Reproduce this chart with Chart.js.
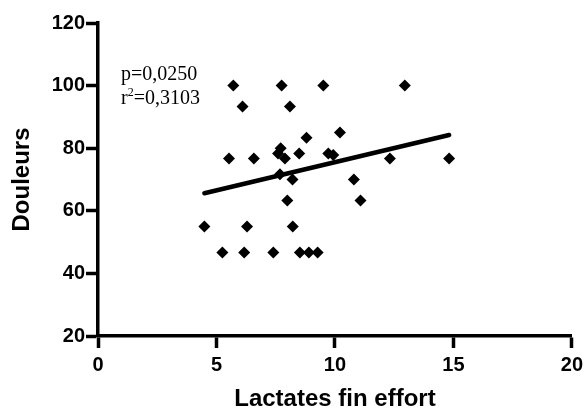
<!DOCTYPE html>
<html lang="fr">
  <head>
    <meta charset="UTF-8" />
    <title>Douleurs vs Lactates fin effort</title>
    <style>
      html,
      body {
        margin: 0;
        padding: 0;
        background: white;
      }

      .container {
        position: relative;
        width: 588px;
        height: 414px;
      }
    </style>
  </head>
  <body>
    <div class="container">
      <canvas id="chart"></canvas>
    </div>

    <script src="https://cdn.jsdelivr.net/npm/chart.js@4.4.0/dist/chart.umd.min.js"></script>
    <script>
      // values
      const lactates = [
        5.71, 7.75, 9.51, 12.95, 6.1, 8.1, 10.21, 8.8, 7.71, 7.6, 8.49, 9.72, 9.93,
        5.53, 6.58, 7.89, 12.32, 14.82, 7.68, 8.21, 10.8, 7.99, 11.08, 4.49, 6.29,
        8.22, 5.25, 6.17, 7.4, 8.52, 8.9, 9.27,
      ];
      const douleurs = [
        100, 100, 100, 100, 93.3, 93.3, 85, 83.3, 80, 78.3, 78.3, 78.3, 77.8,
        76.7, 76.7, 76.7, 76.7, 76.7, 71.7, 70, 70, 63.3, 63.3, 55, 55,
        55, 46.7, 46.7, 46.7, 46.7, 46.7, 46.7,
      ];

      // regression line ends
      const fitX = [4.49, 14.82];
      const fitY = [65.6, 84.2];

      const statLines = ["p=0,0250", "r", "2", "=0,3103"];

      const xTicks = [0, 5, 10, 15, 20];
      const yTicks = [20, 40, 60, 80, 100, 120];

      const TICK_FONT = { family: "'Liberation Sans', Arial, sans-serif", size: 20, weight: "bold" };
      const TITLE_FONT = { family: "'Liberation Sans', Arial, sans-serif", size: 24, weight: "bold" };
      const SERIF = "'Liberation Serif', 'Times New Roman', serif";

      const statsText = {
        id: "statsText",
        afterDraw(chart) {
          const { ctx, chartArea } = chart;
          const x = chartArea.left + 23;
          ctx.save();
          ctx.fillStyle = "#000";
          ctx.textBaseline = "alphabetic";
          ctx.font = "20px " + SERIF;
          ctx.fillText(statLines[0], x, chartArea.top + 57);
          const y2 = chartArea.top + 81;
          ctx.fillText(statLines[1], x, y2);
          let w = ctx.measureText(statLines[1]).width;
          ctx.font = "12px " + SERIF;
          ctx.fillText(statLines[2], x + w, y2 - 8);
          w += ctx.measureText(statLines[2]).width;
          ctx.font = "20px " + SERIF;
          ctx.fillText(statLines[3], x + w, y2);
          ctx.restore();
        },
      };

      const axisStyle = {
        grid: {
          drawOnChartArea: false,
          drawTicks: true,
          tickLength: 12,
          tickWidth: 3.5,
          tickColor: "#000",
        },
        border: { color: "#000", width: 3.5 },
      };

      new Chart(document.getElementById("chart"), {
        type: "scatter",
        data: {
          datasets: [
            {
              label: "Douleurs",
              data: lactates.map((x, i) => ({ x, y: douleurs[i] })),
              pointStyle: "rectRot",
              pointRadius: 6,
              pointBorderWidth: 0,
              backgroundColor: "#000",
              borderColor: "#000",
            },
            {
              label: "Régression",
              type: "line",
              data: fitX.map((x, i) => ({ x, y: fitY[i] })),
              borderColor: "#000",
              borderWidth: 4.5,
              pointRadius: 0,
              borderCapStyle: "round",
              fill: false,
            },
          ],
        },
        options: {
          responsive: true,
          maintainAspectRatio: false,
          animation: false,
          layout: { padding: { left: 0, top: 23, right: 16, bottom: 0 } },
          plugins: {
            legend: { display: false },
            tooltip: { enabled: false },
          },
          scales: {
            x: {
              type: "linear",
              min: 0,
              max: 20,
              afterBuildTicks: (s) => {
                s.ticks = xTicks.map((v) => ({ value: v }));
              },
              afterFit: (s) => {
                s.height = 78;
              },
              ticks: { color: "#000", font: TICK_FONT, padding: 5, maxRotation: 0 },
              title: {
                display: true,
                text: "Lactates fin effort",
                color: "#000",
                font: TITLE_FONT,
                padding: { top: 0, bottom: 0 },
              },
              ...axisStyle,
            },
            y: {
              type: "linear",
              min: 20,
              max: 120,
              afterBuildTicks: (s) => {
                s.ticks = yTicks.map((v) => ({ value: v }));
              },
              afterFit: (s) => {
                s.width = 98;
              },
              ticks: { color: "#000", font: TICK_FONT, padding: 1 },
              title: {
                display: true,
                text: "Douleurs",
                color: "#000",
                font: TITLE_FONT,
                padding: { top: 8, bottom: 0 },
              },
              ...axisStyle,
            },
          },
        },
        plugins: [statsText],
      });
    </script>
  </body>
</html>
